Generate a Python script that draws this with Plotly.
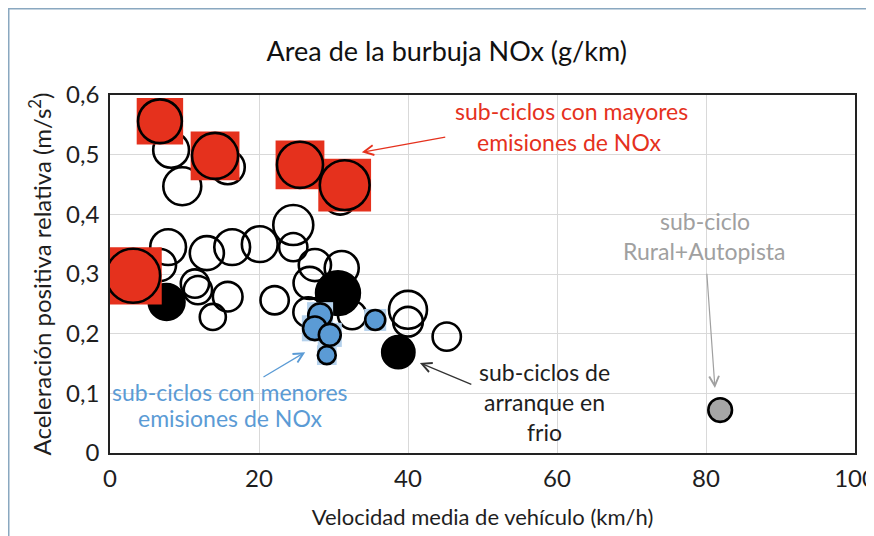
import plotly.graph_objects as go

# bubble data: velocidad media (km/h), aceleracion positiva relativa (m/s2), NOx (g/km)
open_x = [8.2, 9.7, 15.8, 30.9, 24.6, 24.6, 20.1, 27.5, 31.1, 26.8, 22.1, 26.6,
          32.5, 40.0, 40.0, 45.2, 7.8, 6.7, 13.0, 16.4, 11.4, 11.8, 15.8, 13.8]
open_y = [0.508, 0.447, 0.479, 0.428, 0.382, 0.345, 0.350, 0.315, 0.310, 0.285, 0.256, 0.236,
          0.231, 0.240, 0.220, 0.195, 0.345, 0.315, 0.335, 0.345, 0.284, 0.273, 0.262, 0.228]
open_nox = [0.32, 0.36, 0.29, 0.29, 0.40, 0.20, 0.32, 0.26, 0.29, 0.26, 0.20, 0.22,
            0.20, 0.36, 0.22, 0.20, 0.32, 0.26, 0.29, 0.32, 0.20, 0.20, 0.22, 0.17]

red_x = [6.7, 14.1, 25.5, 31.5, 3.1]
red_y = [0.556, 0.498, 0.483, 0.449, 0.297]
red_nox = [0.48, 0.53, 0.53, 0.62, 0.73]

cold_x = [7.6, 30.6, 38.7]
cold_y = [0.253, 0.268, 0.169]
cold_nox = [0.32, 0.48, 0.26]

blue_x = [28.2, 27.5, 29.5, 29.1, 35.6]
blue_y = [0.231, 0.209, 0.198, 0.164, 0.223]
blue_nox = [0.14, 0.14, 0.12, 0.08, 0.10]

rural_x = [81.9]
rural_y = [0.072]
rural_nox = [0.14]

FONT = "Lato"
SREF = 0.0005  # plotly area mode: diameter = sqrt(2 * v / sizeref)
RED = "#e5311d"
BLUE = "#5b9bd5"
INK = "#1e1e1e"


def bubbles(x, y, nox, fill, symbol="circle", line=2.6, scale=1.0):
    return go.Scatter(
        x=x, y=y, mode="markers", hoverinfo="skip",
        marker=dict(size=nox, sizemode="area", sizeref=SREF / scale ** 2, opacity=1,
                    symbol=symbol, color=fill,
                    line=dict(color="black" if line else fill, width=line)),
    )


fig = go.Figure()
fig.add_trace(bubbles(open_x, open_y, open_nox, "rgba(0,0,0,0)"))
fig.add_trace(bubbles(cold_x, cold_y, cold_nox, "black"))
fig.add_trace(bubbles(red_x, red_y, red_nox, RED, symbol="square", line=0, scale=1.06))
fig.add_trace(bubbles(red_x, red_y, red_nox, RED))
fig.add_trace(bubbles(blue_x, blue_y, blue_nox, "#b4d1ec", symbol="square", line=0, scale=1.1))
fig.add_trace(bubbles(blue_x, blue_y, blue_nox, BLUE))
fig.add_trace(bubbles(rural_x, rural_y, rural_nox, "#a6a6a6"))

# text labels, one annotation per line
labels = [
    ("sub-ciclos con mayores", 61.9, 0.573, RED),
    ("emisiones de NOx", 61.6, 0.522, RED),
    ("sub-ciclos con menores", 16.1, 0.103, BLUE),
    ("emisiones de NOx", 16.1, 0.058, BLUE),
    ("sub-ciclos de", 58.3, 0.135, INK),
    ("arranque en", 58.3, 0.086, INK),
    ("frio", 58.3, 0.036, INK),
    ("sub-ciclo", 79.8, 0.388, "#a0a0a0"),
    ("Rural+Autopista", 79.8, 0.338, "#a0a0a0"),
]
for txt, lx, ly, col in labels:
    fig.add_annotation(x=lx, y=ly, text=txt, showarrow=False,
                       font=dict(family=FONT, size=23, color=col))

# arrows: (head x, head y, tail x, tail y, colour)
arrows = [
    (33.8, 0.504, 45.2, 0.530, RED),
    (26.2, 0.169, 20.4, 0.126, BLUE),
    (41.6, 0.151, 48.7, 0.114, "#333333"),
    (81.2, 0.109, 80.1, 0.303, "#a0a0a0"),
]
for hx, hy, tx, ty, col in arrows:
    fig.add_annotation(x=hx, y=hy, ax=tx, ay=ty, axref="x", ayref="y", text="",
                       showarrow=True, arrowhead=5, arrowsize=1.6, arrowwidth=1.2,
                       arrowcolor=col)

# outer frame of the original figure (only top and left edges are visible)
fig.add_shape(type="rect", xref="paper", yref="paper", x0=-0.1359, y0=-0.5, x1=1.3, y1=1.2409,
              line=dict(color="#8aa8c0", width=1.5), layer="below")

axis_style = dict(showgrid=True, gridcolor="#d9d9d9", gridwidth=1, automargin=False,
                  showline=True, linecolor="#222222", linewidth=1.6, mirror=True,
                  zeroline=False, ticklabeloverflow="allow",
                  tickfont=dict(family=FONT, size=24, color=INK))
fig.update_xaxes(range=[0, 100], dtick=20, ticklabelstandoff=3, **axis_style,
                 title=dict(text="Velocidad media de vehículo (km/h)", standoff=19,
                            font=dict(family=FONT, size=22, color=INK)))
fig.update_yaxes(range=[0, 0.6], dtick=0.1, ticklabelstandoff=4, **axis_style,
                 title=dict(text="Aceleración positiva relativa (m/s<sup>2</sup>)", standoff=8,
                            font=dict(family=FONT, size=24, color=INK)))
fig.update_layout(
    width=874, height=528,
    margin=dict(l=102, r=27, t=87, b=83),
    paper_bgcolor="white", plot_bgcolor="white",
    separators=",.",
    showlegend=False,
    title=dict(text="Area de la burbuja NOx (g/km)", x=0.502, xanchor="center",
               y=0.9167, yanchor="middle", font=dict(family=FONT, size=27, color="#111111")),
)
fig.write_html("out.html")
